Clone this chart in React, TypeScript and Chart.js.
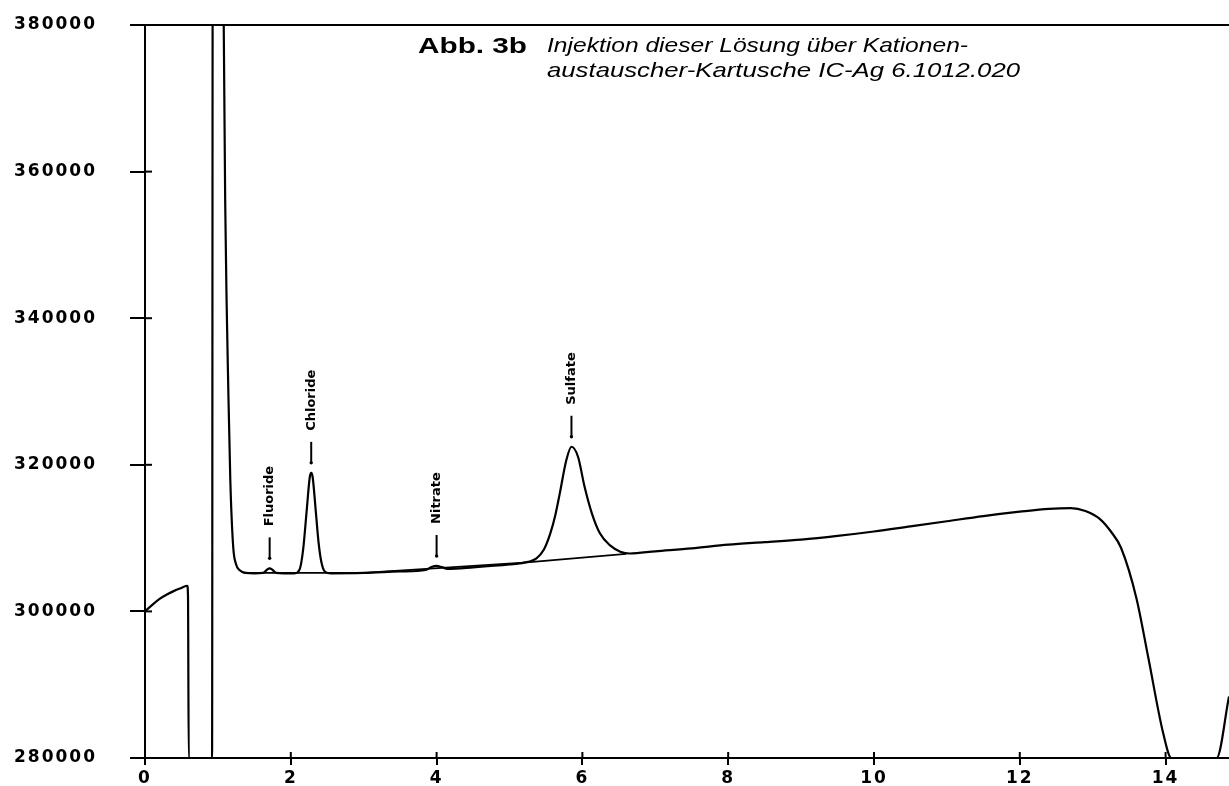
import React, { useEffect, useRef } from 'react';
import { Chart, registerables } from 'chart.js';

Chart.register(...registerables);

// Retention time (min) and detector signal of the chromatogram trace
const times = [
  0.0, 0.1, 0.2, 0.3, 0.4, 0.5, 0.58, 0.59, 0.6, 0.92, 0.93, 1.07, 1.08, 1.1, 1.12, 1.14, 1.17, 1.21, 1.25, 1.3,
  1.38, 1.5, 1.62, 1.67, 1.71, 1.75, 1.8, 1.9, 2.05, 2.12, 2.17, 2.22, 2.26, 2.28, 2.3, 2.34, 2.38, 2.42, 2.47,
  2.55, 3.0, 3.5, 3.85, 3.93, 4.0, 4.07, 4.15, 4.5, 5.0, 5.2, 5.37, 5.47, 5.56, 5.63, 5.69, 5.78, 5.85, 5.94,
  6.03, 6.13, 6.24, 6.38, 6.52, 6.65, 7.0, 7.5, 8.0, 8.5, 9.0, 9.5, 10.0, 10.5, 11.0, 11.5, 12.0, 12.4, 12.7,
  12.9, 13.1, 13.25, 13.39, 13.6, 13.76, 13.97, 14.08, 14.7, 14.87,
];
const signal = [
  300000, 300900, 301700, 302300, 302800, 303200, 303500, 302000, 280000, 280000, 400000, 400000, 380000, 356000,
  342000, 331600, 318000, 308800, 306400, 305600, 305250, 305200, 305250, 305650, 305870, 305650, 305250, 305200,
  305200, 305700, 308500, 314000, 318300, 318900, 318300, 314000, 309500, 306700, 305400, 305200, 305250, 305450,
  305650, 306050, 306200, 306050, 305800, 306000, 306400, 306650, 307240, 308400, 310650, 313200, 316100, 320650,
  322460, 321100, 317000, 313380, 310650, 309000, 308150, 307900, 308200, 308600, 309100, 309450, 309800, 310300,
  310900, 311600, 312300, 313000, 313600, 314000, 314100, 313700, 312600, 310900, 308650, 301800, 293850, 283270,
  280000, 280000, 288400,
];

// Drawn integration baseline beneath the peaks
const baseTimes = [1.35, 3.0, 5.2, 6.6];
const baseValues = [305250, 305250, 306650, 307850];

const xTickValues = [0, 2, 4, 6, 8, 10, 12, 14];
const yTickValues = [280000, 300000, 320000, 340000, 360000, 380000];

const peakNames = ['Fluoride', 'Chloride', 'Nitrate', 'Sulfate'];
const peakTimes = [1.71, 2.28, 4.0, 5.85];
const peakTops = [305870, 318900, 306200, 322460];

const titleBold = 'Abb. 3b';
const titleLines = ['Injektion dieser Lösung über Kationen-', 'austauscher-Kartusche IC-Ag 6.1012.020'];

const X_MIN = 0;
const X_MAX = 14.87;

const framePlugin = {
  id: 'frame',
  beforeDraw(chart: any) {
    chart.ctx.letterSpacing = '2px';
  },
  afterDraw(chart: any) {
    const { ctx, chartArea, scales } = chart;
    const xs = scales.x;
    const ys = scales.y;
    ctx.save();
    ctx.letterSpacing = '0px';
    ctx.strokeStyle = '#000';
    ctx.fillStyle = '#000';
    ctx.lineWidth = 2;
    // top frame line
    ctx.beginPath();
    ctx.moveTo(130, chartArea.top);
    ctx.lineTo(chartArea.right, chartArea.top);
    ctx.stroke();
    // bottom axis extension to the left
    ctx.beginPath();
    ctx.moveTo(133, chartArea.bottom);
    ctx.lineTo(chartArea.left, chartArea.bottom);
    ctx.stroke();
    // inner parts of the tick crosses
    yTickValues.forEach((v) => {
      const py = ys.getPixelForValue(v);
      ctx.beginPath();
      ctx.moveTo(chartArea.left, py);
      ctx.lineTo(chartArea.left + 7, py);
      ctx.stroke();
    });
    xTickValues.forEach((v) => {
      const px = xs.getPixelForValue(v);
      ctx.beginPath();
      ctx.moveTo(px, chartArea.bottom);
      ctx.lineTo(px, chartArea.bottom - 6);
      ctx.stroke();
    });

    // peak labels
    peakNames.forEach((name, i) => {
      const px = xs.getPixelForValue(peakTimes[i]);
      const py = ys.getPixelForValue(peakTops[i]);
      ctx.lineWidth = 2;
      ctx.beginPath();
      ctx.moveTo(px, py - 10);
      ctx.lineTo(px, py - 31);
      ctx.stroke();
      ctx.beginPath();
      ctx.arc(px, py - 10, 1.7, 0, Math.PI * 2);
      ctx.fill();
      ctx.save();
      ctx.translate(px, py - 42);
      ctx.rotate(-Math.PI / 2);
      ctx.font = 'bold 13px "DejaVu Sans"';
      ctx.textAlign = 'left';
      ctx.textBaseline = 'middle';
      ctx.fillText(name, 0, 0);
      ctx.restore();
    });

    // title annotation
    const drawFit = (text: string, font: string, x: number, y: number, w: number) => {
      ctx.save();
      ctx.font = font;
      ctx.textAlign = 'left';
      ctx.textBaseline = 'alphabetic';
      const m = ctx.measureText(text).width;
      ctx.translate(x, y);
      ctx.scale(w / m, 1);
      ctx.fillText(text, 0, 0);
      ctx.restore();
    };
    drawFit(titleBold, 'bold 22px "Liberation Sans"', 418, 53, 109);
    drawFit(titleLines[0], 'italic 21px "Liberation Sans"', 547, 52, 421);
    drawFit(titleLines[1], 'italic 21px "Liberation Sans"', 547, 77, 473);
    ctx.restore();
  },
};

export default function App() {
  const canvasRef = useRef<HTMLCanvasElement | null>(null);

  useEffect(() => {
    const canvas = canvasRef.current;
    if (!canvas) return;
    const tickFont = { family: '"DejaVu Sans"', weight: 'bold' as const, size: 17 };
    const chart = new Chart(canvas, {
      type: 'line',
      data: {
        datasets: [
          {
            label: 'Signal',
            data: times.map((t, i) => ({ x: t, y: signal[i] })),
            borderColor: '#000',
            backgroundColor: '#000',
            borderWidth: 2.2,
            pointRadius: 0,
            cubicInterpolationMode: 'monotone',
            fill: false,
          },
          {
            label: 'Baseline',
            data: baseTimes.map((t, i) => ({ x: t, y: baseValues[i] })),
            borderColor: '#000',
            backgroundColor: '#000',
            borderWidth: 1.8,
            pointRadius: 0,
            tension: 0,
            fill: false,
          },
        ],
      },
      options: {
        responsive: false,
        animation: false,
        events: [],
        layout: { padding: { top: 25, right: 0, left: 0, bottom: 0 } },
        plugins: {
          legend: { display: false },
          tooltip: { enabled: false },
          title: { display: false },
        },
        scales: {
          x: {
            type: 'linear',
            min: X_MIN,
            max: X_MAX,
            afterFit: (s: any) => {
              s.height = 28;
              s.paddingLeft = 0;
              s.paddingRight = 0;
            },
            afterBuildTicks: (s: any) => {
              s.ticks = xTickValues.map((v) => ({ value: v }));
            },
            ticks: {
              color: '#000',
              font: tickFont,
              padding: 3,
              maxRotation: 0,
              autoSkip: false,
              callback: (v: any) => String(v),
            },
            grid: {
              drawOnChartArea: false,
              drawTicks: true,
              tickLength: 7,
              color: '#000',
              lineWidth: 2,
            },
            border: { display: true, color: '#000', width: 2 },
          },
          y: {
            type: 'linear',
            min: 280000,
            max: 380000,
            afterFit: (s: any) => {
              s.width = 145;
              s.paddingTop = 0;
              s.paddingBottom = 0;
            },
            afterBuildTicks: (s: any) => {
              s.ticks = yTickValues.map((v) => ({ value: v }));
            },
            ticks: {
              color: '#000',
              font: tickFont,
              padding: 33,
              autoSkip: false,
              callback: (v: any) => String(v),
            },
            grid: {
              drawOnChartArea: false,
              drawTicks: true,
              tickLength: 15,
              color: '#000',
              lineWidth: 2,
            },
            border: { display: true, color: '#000', width: 2 },
          },
        },
      },
      plugins: [framePlugin],
    });
    return () => {
      chart.destroy();
    };
  }, []);

  return (
    <div style={{ position: 'fixed', left: 0, top: 0, width: 1229, height: 786, background: '#fff' }}>
      <canvas ref={canvasRef} width={1229} height={786} style={{ display: 'block' }} />
    </div>
  );
}
